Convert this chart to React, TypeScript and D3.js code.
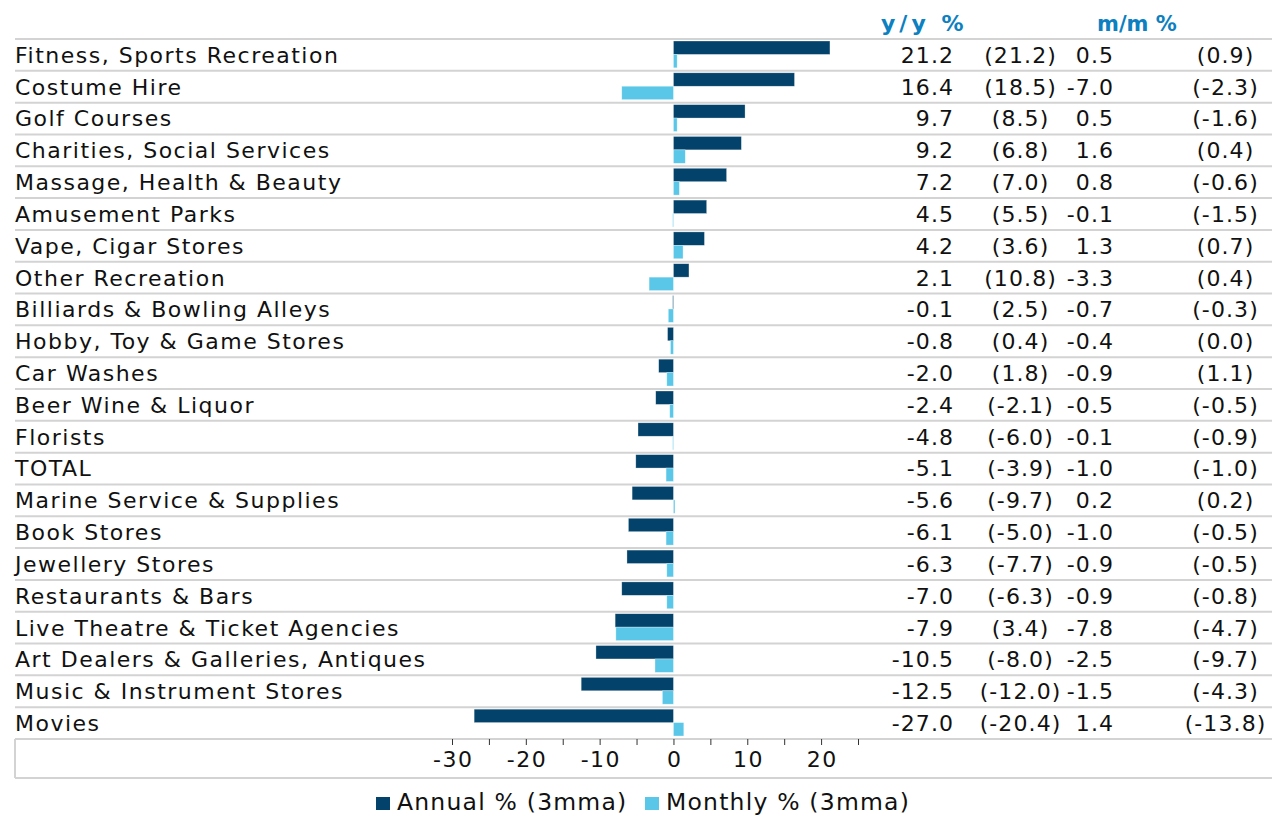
import React, { useEffect, useRef } from 'react';
import * as d3 from 'd3';

const categories = [
  'Fitness, Sports Recreation',
  'Costume Hire',
  'Golf Courses',
  'Charities, Social Services',
  'Massage, Health & Beauty',
  'Amusement Parks',
  'Vape, Cigar Stores',
  'Other Recreation',
  'Billiards & Bowling Alleys',
  'Hobby, Toy & Game Stores',
  'Car Washes',
  'Beer Wine & Liquor',
  'Florists',
  'TOTAL',
  'Marine Service & Supplies',
  'Book Stores',
  'Jewellery Stores',
  'Restaurants & Bars',
  'Live Theatre & Ticket Agencies',
  'Art Dealers & Galleries, Antiques',
  'Music & Instrument Stores',
  'Movies',
];

// y/y % (3mma) and the previous reading in brackets
const annual = [21.2, 16.4, 9.7, 9.2, 7.2, 4.5, 4.2, 2.1, -0.1, -0.8, -2.0, -2.4, -4.8, -5.1, -5.6, -6.1, -6.3, -7.0, -7.9, -10.5, -12.5, -27.0];
const annualPrev = [21.2, 18.5, 8.5, 6.8, 7.0, 5.5, 3.6, 10.8, 2.5, 0.4, 1.8, -2.1, -6.0, -3.9, -9.7, -5.0, -7.7, -6.3, 3.4, -8.0, -12.0, -20.4];

// m/m % (3mma) and the previous reading in brackets
const monthly = [0.5, -7.0, 0.5, 1.6, 0.8, -0.1, 1.3, -3.3, -0.7, -0.4, -0.9, -0.5, -0.1, -1.0, 0.2, -1.0, -0.9, -0.9, -7.8, -2.5, -1.5, 1.4];
const monthlyPrev = [0.9, -2.3, -1.6, 0.4, -0.6, -1.5, 0.7, 0.4, -0.3, 0.0, 1.1, -0.5, -0.9, -1.0, 0.2, -0.5, -0.5, -0.8, -4.7, -9.7, -4.3, -13.8];

const xTicks = [-30, -25, -20, -15, -10, -5, 0, 5, 10, 15, 20, 25];
const seriesNames = ['Annual % (3mma)', 'Monthly % (3mma)'];
const headers = ['y/y %', 'm/m %'];

const DARK = '#03426a';
const LIGHT = '#5bc7e8';
const GRID = '#d3d3d3';
const BLUE = '#0c80c0';
const FONT = '"DejaVu Sans", Verdana, sans-serif';
const LS = 1.5; // letter spacing to get closer to Verdana widths
const NS = 1.1; // letter spacing for the numbers

function App() {
  const svgRef = useRef<SVGSVGElement>(null);

  useEffect(() => {
    const width = 1272;
    const height = 816;
    const top = 39;
    const bottom = 739;
    const left = 15;

    const svg = d3.select(svgRef.current).attr('width', width).attr('height', height);
    svg.selectAll('*').remove();

    const y = d3.scaleBand().domain(categories).range([top, bottom]);
    const x = d3.scaleLinear().domain([-30, 25]).range([452, 858]);

    const fmt = (v: number) => v.toFixed(1);

    // row rules
    svg
      .append('g')
      .selectAll('line')
      .data([top, ...categories.map((c) => y(c)! + y.bandwidth())])
      .join('line')
      .attr('x1', left)
      .attr('x2', width)
      .attr('y1', (d) => d)
      .attr('y2', (d) => d)
      .attr('stroke', GRID)
      .attr('stroke-width', 2);

    // box under the axis
    svg.append('line').attr('x1', left).attr('x2', width).attr('y1', 778).attr('y2', 778).attr('stroke', GRID).attr('stroke-width', 2);
    svg.append('line').attr('x1', left).attr('x2', left).attr('y1', bottom).attr('y2', 778).attr('stroke', GRID).attr('stroke-width', 2);

    // headers
    const head = svg.append('g').attr('font-family', FONT).attr('font-weight', 'bold').attr('fill', BLUE);
    head.append('text').attr('x', 881).attr('y', 31).attr('font-size', 22).attr('letter-spacing', 4).text(headers[0]);
    head.append('text').attr('x', 1097).attr('y', 31).attr('font-size', 21).attr('letter-spacing', 0).text(headers[1]);

    const bh = (y.bandwidth() - 5) / 2;

    // bars
    const rows = svg.append('g');
    rows
      .selectAll('rect.annual')
      .data(categories)
      .join('rect')
      .attr('class', 'annual')
      .attr('x', (d, i) => x(Math.min(0, annual[i])))
      .attr('width', (d, i) => Math.abs(x(annual[i]) - x(0)))
      .attr('y', (d) => y(d)! + 2)
      .attr('height', bh)
      .attr('fill', DARK)
      .attr('stroke', '#ffffff')
      .attr('stroke-opacity', 0.5)
      .attr('stroke-width', 0.6);

    rows
      .selectAll('rect.monthly')
      .data(categories)
      .join('rect')
      .attr('class', 'monthly')
      .attr('x', (d, i) => x(Math.min(0, monthly[i])))
      .attr('width', (d, i) => Math.abs(x(monthly[i]) - x(0)))
      .attr('y', (d) => y(d)! + 2 + bh)
      .attr('height', bh)
      .attr('fill', LIGHT)
      .attr('stroke', '#ffffff')
      .attr('stroke-opacity', 0.5)
      .attr('stroke-width', 0.6);

    // category labels and table
    const txt = svg.append('g').attr('font-family', FONT).attr('font-size', 22).attr('fill', '#111');
    const rowY = (c: string) => y(c)! + y.bandwidth() / 2;

    txt.selectAll('text.cat').data(categories).join('text').attr('class', 'cat')
      .attr('x', left).attr('y', rowY).attr('dy', '0.36em').attr('letter-spacing', LS).text((d) => d);

    const nums = txt.append('g').attr('letter-spacing', NS);

    nums.selectAll('text.c1').data(categories).join('text').attr('class', 'c1')
      .attr('x', 953 + NS).attr('y', rowY).attr('dy', '0.36em').attr('text-anchor', 'end').text((d, i) => fmt(annual[i]));

    nums.selectAll('text.c2').data(categories).join('text').attr('class', 'c2')
      .attr('x', 1020 + NS / 2).attr('y', rowY).attr('dy', '0.36em').attr('text-anchor', 'middle').text((d, i) => `(${fmt(annualPrev[i])})`);

    nums.selectAll('text.c3').data(categories).join('text').attr('class', 'c3')
      .attr('x', 1113 + NS).attr('y', rowY).attr('dy', '0.36em').attr('text-anchor', 'end').text((d, i) => fmt(monthly[i]));

    nums.selectAll('text.c4').data(categories).join('text').attr('class', 'c4')
      .attr('x', 1225 + NS / 2).attr('y', rowY).attr('dy', '0.36em').attr('text-anchor', 'middle').text((d, i) => `(${fmt(monthlyPrev[i])})`);

    // axis
    const axis = svg
      .append('g')
      .attr('transform', `translate(0,${bottom})`)
      .call(
        d3.axisBottom(x)
          .tickValues(xTicks)
          .tickSize(6)
          .tickPadding(6)
          .tickFormat((d) => ((d as number) % 10 === 0 ? String(d) : ''))
      );
    axis.select('.domain').remove();
    axis.selectAll('line').attr('stroke', '#333');
    axis.selectAll('text').attr('font-family', FONT).attr('font-size', 22).attr('fill', '#111')
      .attr('letter-spacing', LS).attr('dx', LS / 2);

    // legend
    const legend = svg.append('g').attr('font-family', FONT).attr('font-size', 23.5).attr('fill', '#111').attr('letter-spacing', 1.2);
    const items = [
      { name: seriesNames[0], color: DARK, x: 376 },
      { name: seriesNames[1], color: LIGHT, x: 645 },
    ];
    items.forEach((it) => {
      legend.append('rect').attr('x', it.x).attr('y', 797).attr('width', 14).attr('height', 13).attr('fill', it.color);
      legend.append('text').attr('x', it.x + 21).attr('y', 810).text(it.name);
    });
  }, []);

  return <svg ref={svgRef} style={{ position: 'absolute', left: 0, top: 0, background: '#fff' }}></svg>;
}

export default App;
